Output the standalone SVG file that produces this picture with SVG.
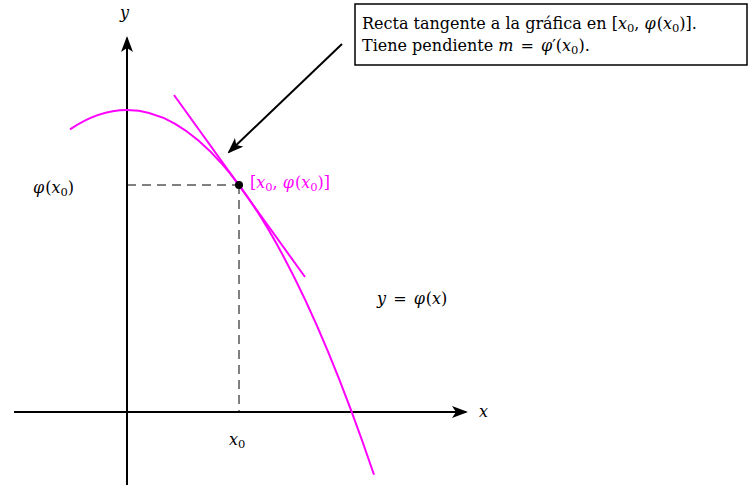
<svg xmlns="http://www.w3.org/2000/svg" width="749" height="486" viewBox="0 0 749 486">
<style>
text{font-family:"DejaVu Serif","Liberation Serif",serif;font-size:16px;fill:#000}
.m{font-style:italic}
.s{font-size:11.5px}
.mg{fill:#ff00ff}
.ax{stroke:#000;stroke-width:2;fill:none}
.dash{stroke:#000;stroke-width:1;stroke-dasharray:9 6;fill:none}
.curve{stroke:#ff00ff;stroke-width:2;fill:none}
</style>
<defs>
<marker id="ah" markerWidth="16" markerHeight="12" refX="14" refY="6" orient="auto" markerUnits="userSpaceOnUse">
<path d="M0,0 L16,6 L0,12 L4,6 Z" fill="#000"/>
</marker>
</defs>
<g id="connectors">
<line class="ax" x1="14" y1="412" x2="466" y2="412" marker-end="url(#ah)"/>
<line class="ax" x1="127" y1="485" x2="127" y2="38" marker-end="url(#ah)"/>
<line class="dash" x1="127" y1="185" x2="239" y2="185"/>
<line class="dash" x1="239" y1="185" x2="239" y2="412"/>
<line class="ax" x1="342" y1="44" x2="229" y2="152" marker-end="url(#ah)"/>
</g>
<g id="curve">
<path class="curve" d="M70,129.4 Q222,25.8 374,474.8"/>
</g>
<g id="tangent">
<line class="curve" x1="174" y1="95" x2="305" y2="277"/>
</g>
<g id="point">
<circle cx="239" cy="185" r="4" fill="#000"/>
<text x="250" y="188" class="mg">[<tspan class="m">x</tspan><tspan class="s" dy="3">0</tspan><tspan dy="-3">, </tspan><tspan class="m">φ</tspan><tspan dx="1">(</tspan><tspan class="m">x</tspan><tspan class="s" dy="3">0</tspan><tspan dy="-3">)]</tspan></text>
</g>
<g id="labels">
<text x="120" y="18" class="m">y</text>
<text x="479" y="417" class="m">x</text>
<text x="229" y="445"><tspan class="m">x</tspan><tspan class="s" dy="3">0</tspan></text>
<text x="33" y="193"><tspan class="m">φ</tspan><tspan dx="1">(</tspan><tspan class="m">x</tspan><tspan class="s" dy="3">0</tspan><tspan dy="-3">)</tspan></text>
<text x="377" y="304"><tspan class="m">y</tspan><tspan dx="2"> = </tspan><tspan class="m" dx="2">φ</tspan><tspan dx="1">(</tspan><tspan class="m">x</tspan>)</text>
</g>
<g id="callout">
<rect x="355" y="4" width="392" height="61" fill="#fff" stroke="#000" stroke-width="1.5"/>
<text x="362" y="29">Recta tangente a la gráfica en [<tspan class="m">x</tspan><tspan class="s" dy="3">0</tspan><tspan dy="-3">, </tspan><tspan class="m">φ</tspan><tspan dx="1">(</tspan><tspan class="m">x</tspan><tspan class="s" dy="3">0</tspan><tspan dy="-3">)].</tspan></text>
<text x="362" y="51">Tiene pendiente <tspan class="m">m</tspan><tspan dx="2"> = </tspan><tspan class="m" dx="2">φ</tspan>′(<tspan class="m">x</tspan><tspan class="s" dy="3">0</tspan><tspan dy="-3">).</tspan></text>
</g>
</svg>
